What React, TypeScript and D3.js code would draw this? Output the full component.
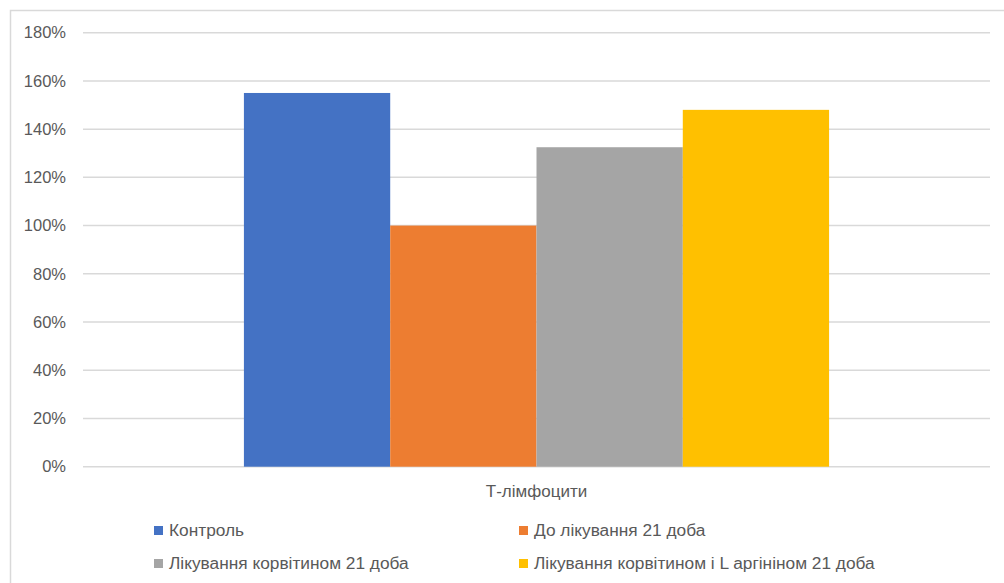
import React from "react";
import * as d3 from "d3";

const categories = ["Т-лімфоцити"];
const seriesNames = [
  "Контроль",
  "До лікування 21 доба",
  "Лікування корвітином 21 доба",
  "Лікування корвітином і L аргініном 21 доба",
];
const seriesValues = [1.55, 1.0, 1.325, 1.48];
const seriesColors = ["#4472C4", "#ED7D31", "#A5A5A5", "#FFC000"];
const yTicks = [0, 0.2, 0.4, 0.6, 0.8, 1.0, 1.2, 1.4, 1.6, 1.8];

const W = 1004;
const H = 583;
const plot = { left: 83, right: 990, top: 32.7, bottom: 466.7 };
const FONT = "'Liberation Sans', Arial, sans-serif";

export default function App() {
  const y = d3.scaleLinear().domain([0, 1.8]).range([plot.bottom, plot.top]);
  const x0 = d3
    .scaleBand<string>()
    .domain(categories)
    .range([plot.left, plot.right])
    .paddingInner(0)
    .paddingOuter(0.275);
  const x1 = d3
    .scaleBand<string>()
    .domain(seriesNames)
    .range([0, x0.bandwidth()])
    .padding(0);
  const fmt = d3.format(".0%");

  const legendPos = [
    { x: 154, y: 526 },
    { x: 519, y: 526 },
    { x: 154, y: 559 },
    { x: 519, y: 559 },
  ];

  return (
    <svg
      width={W}
      height={H}
      style={{ position: "absolute", left: 0, top: 0, background: "#fff" }}
    >
      <rect x={10.5} y={10.5} width={W + 10} height={H + 10} fill="#fff" stroke="#D9D9D9" strokeWidth={1.5} />
      {yTicks.map((t) => (
        <g key={t}>
          <line
            x1={plot.left}
            x2={plot.right}
            y1={y(t)}
            y2={y(t)}
            stroke="#D9D9D9"
            strokeWidth={1.5}
          />
          <text
            x={66}
            y={y(t)}
            dy="0.35em"
            textAnchor="end"
            fontFamily={FONT}
            fontSize={16.5}
            fill="#595959"
          >
            {fmt(t)}
          </text>
        </g>
      ))}
      {categories.map((c) => (
        <g key={c} transform={`translate(${x0(c)},0)`}>
          {seriesNames.map((s, i) => (
            <rect
              key={s}
              x={x1(s)}
              y={y(seriesValues[i])}
              width={x1.bandwidth()}
              height={y(0) - y(seriesValues[i])}
              fill={seriesColors[i]}
            />
          ))}
          <text
            x={x0.bandwidth() / 2}
            y={497}
            textAnchor="middle"
            fontFamily={FONT}
            fontSize={17}
            fill="#595959"
          >
            {c}
          </text>
        </g>
      ))}
      {seriesNames.map((s, i) => (
        <g key={s} transform={`translate(${legendPos[i].x},${legendPos[i].y})`}>
          <rect width={9} height={9} fill={seriesColors[i]} />
          <text x={15} y={9.5} fontFamily={FONT} fontSize={17.3} fill="#595959">
            {s}
          </text>
        </g>
      ))}
    </svg>
  );
}
